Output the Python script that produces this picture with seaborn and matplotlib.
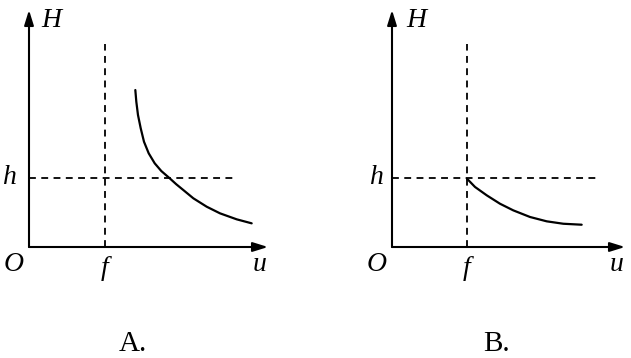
import matplotlib
matplotlib.use("Agg")
import matplotlib.pyplot as plt
import seaborn as sns
import pandas as pd

sns.set_theme(style="white")
plt.rcParams['font.family'] = ['Liberation Serif', 'DejaVu Serif']
plt.rcParams['text.color'] = 'black'

# ---- data (units: f = 1, h = 1) ----
f_val = 1.0
h_val = 1.0
panel_labels = ["A.", "B."]
axis_labels = {"y": "H", "x": "u", "origin": "O", "f": "f", "h": "h"}

curve_a_u = [1.399, 1.412, 1.434, 1.470, 1.513, 1.575, 1.654, 1.741, 1.851,
             1.938, 2.030, 2.162, 2.338, 2.513, 2.733, 2.930]
curve_a_H = [2.275, 2.106, 1.913, 1.720, 1.526, 1.358, 1.213, 1.101, 0.996,
             0.909, 0.826, 0.706, 0.584, 0.488, 0.401, 0.343]

curve_b_u = [1.000, 1.107, 1.263, 1.440, 1.617, 1.840, 2.063, 2.284, 2.529]
curve_b_H = [0.990, 0.870, 0.749, 0.627, 0.531, 0.435, 0.372, 0.337, 0.323]

W, Hh = 631, 358
fig = plt.figure(figsize=(W / 100, Hh / 100), dpi=100)
fig.patch.set_facecolor("white")

def make_panel(left_px, right_px, xscale, u, H, hline_end, label_x_px, label,
               H_dx, h_dx, O_dx, u_dx):
    top_px, bottom_px, yscale = 10, 247, 69
    ax = fig.add_axes([left_px / W, (Hh - bottom_px) / Hh,
                       (right_px - left_px) / W, (bottom_px - top_px) / Hh])
    xmax = (right_px - left_px) / xscale
    ymax = (bottom_px - top_px) / yscale
    ax.set_xlim(0, xmax)
    ax.set_ylim(0, ymax)
    ax.axis("off")
    ap = dict(arrowstyle="-|>,head_length=0.45,head_width=0.14", lw=1.5,
              color="black", mutation_scale=20, shrinkA=0, shrinkB=0)
    ax.annotate("", xy=(xmax, 0), xytext=(0, 0), arrowprops=ap, annotation_clip=False)
    ax.annotate("", xy=(0, ymax), xytext=(0, 0), arrowprops=ap, annotation_clip=False)
    # dashed guides
    dash = (0, (3.8, 3.0))
    ax.plot([f_val, f_val], [0, 2.94], color="black", lw=1.3, ls=dash, clip_on=False)
    ax.plot([0, hline_end], [h_val, h_val], color="black", lw=1.3, ls=dash, clip_on=False)
    df = pd.DataFrame({"u": u, "H": H})
    sns.lineplot(data=df, x="u", y="H", ax=ax, color="black", lw=1.6, sort=False,
                 estimator=None)
    tkw = dict(fontsize=20, style="italic", ha="center", va="center",
               clip_on=False, color="black")
    ax.text(H_dx, 3.28, axis_labels["y"], **tkw)
    ax.text(h_dx, h_val, axis_labels["h"], **tkw)
    ax.text(O_dx, -0.25, axis_labels["origin"], **tkw)
    ax.text(f_val, -0.31, axis_labels["f"], **tkw)
    ax.text(u_dx, -0.25, axis_labels["x"], **tkw)
    fig.text(label_x_px / W, 1 - 344 / Hh, label, fontsize=21, ha="center",
             va="center", color="black")
    return ax

make_panel(29, 268, 76, curve_a_u, curve_a_H, 2.74, 133, panel_labels[0],
           0.29, -0.25, -0.20, 3.03)
make_panel(392, 625, 75, curve_b_u, curve_b_H, 2.75, 496, panel_labels[1],
           0.33, -0.20, -0.21, 3.00)

fig.savefig("out.png", dpi=100, facecolor="white")
